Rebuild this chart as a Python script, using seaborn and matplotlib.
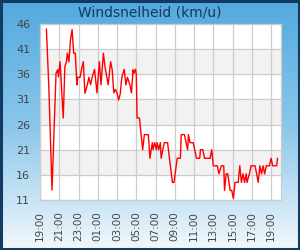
import pandas as pd
import numpy as np
import matplotlib
matplotlib.use('Agg')
import matplotlib.pyplot as plt
import matplotlib.dates as mdates
import seaborn as sns

# tijden (klok) en windsnelheid in km/u
tijden = ['19:40', '19:55', '20:15', '20:40', '20:50', '20:55', '21:05', '21:25', '21:35', '21:45',
          '21:50', '22:00', '22:10', '22:20', '22:30', '22:40', '22:50', '22:55', '23:10', '23:20',
          '23:30', '23:40', '23:55', '00:05', '00:15', '00:25', '00:40', '00:50', '00:55', '01:10',
          '01:20', '01:35', '01:45', '02:05', '02:20', '02:30', '02:40', '02:50', '03:00', '03:10',
          '03:20', '03:30', '03:45', '03:55', '04:05', '04:20', '04:30', '04:40', '04:45', '04:55',
          '05:00', '05:05', '05:20', '05:30', '05:40', '05:50', '06:15', '06:25', '06:40', '06:45',
          '06:55', '07:05', '07:10', '07:20', '07:30', '07:35', '07:45', '07:55', '08:15', '08:45',
          '08:55', '09:15', '09:35', '09:40', '10:00', '10:20', '10:25', '10:35', '10:55', '11:15',
          '11:35', '11:40', '11:55', '12:05', '12:40', '12:50', '13:00', '13:25', '13:35', '13:50',
          '14:05', '14:10', '14:20', '14:30', '14:45', '14:55', '15:05', '15:15', '15:35', '15:45',
          '15:55', '16:05', '16:15', '16:25', '16:30', '16:45', '16:55', '17:20', '17:30', '17:40',
          '17:50', '18:00', '18:10', '18:20', '18:30', '18:50', '19:00', '19:10', '19:35', '19:40']
snelheid = [45, 33.5, 13, 36.2, 36.9, 35.5, 38.5, 27.3, 37.5, 38.5,
            40.2, 38.5, 42.8, 44.9, 40.2, 40.2, 33.9, 35.4, 35.4, 37.2,
            38.5, 32.2, 33.9, 35.4, 33.9, 35.4, 37, 33.9, 32.3, 38.5,
            33.9, 40.2, 37.5, 33.9, 38.5, 36.9, 32.3, 33, 32.3, 30.9,
            32.1, 35.4, 37, 33.9, 35.4, 33.9, 32.3, 36.9, 36.2, 37,
            35.9, 27.3, 27.3, 24, 21, 24, 24, 19.3, 22.4, 21,
            22.4, 21, 22.4, 21, 22.4, 19.3, 21, 22.4, 22.4, 14.5,
            14.5, 19.3, 19.3, 24, 24, 21, 24, 22.4, 22.4, 19.3,
            19.3, 21, 21, 19.3, 19.3, 21, 17.8, 17.8, 16.2, 17.8,
            17.8, 12.9, 16.2, 16.2, 12.9, 12.9, 11.3, 14.5, 14.5, 17.8,
            14.5, 16.2, 14.5, 16.2, 14.5, 16.2, 17.8, 17.8, 16.2, 14.5,
            17.8, 16.2, 17.8, 16.2, 17.8, 17.8, 19.3, 17.8, 17.8, 19.3]
y_ticks = [11, 16, 21, 26, 31, 36, 41, 46]

# klokstrings omzetten naar datetimes (na middernacht een dag verder)
start = pd.Timestamp('2024-06-01 19:00')
stamps = []
dag = pd.Timestamp('2024-06-01')
vorige = None
for t in tijden:
    ts = pd.Timestamp(f"{dag.date()} {t}")
    if vorige is not None and ts < vorige:
        dag = dag + pd.Timedelta(days=1)
        ts = pd.Timestamp(f"{dag.date()} {t}")
    stamps.append(ts)
    vorige = ts
df = pd.DataFrame({'tijd': stamps, 'kmu': snelheid})

sns.set_style('white')
plt.rcParams['font.family'] = ['DejaVu Sans']

fig = plt.figure(figsize=(3, 2.5), dpi=100)

# achtergrond met verloop van blauw naar lichtblauw
bg = fig.add_axes([0, 0, 1, 1], zorder=-2)
grad = np.linspace(0, 1, 256).reshape(-1, 1)
cmap = matplotlib.colors.LinearSegmentedColormap.from_list('bg', ['#52a9de', '#8ac6ea', '#f2f8fc'])
bg.imshow(grad, aspect='auto', cmap=cmap, extent=[0, 1, 0, 1])
bg.set_axis_off()
fig.patches.append(matplotlib.patches.Rectangle((0.003, 0.004), 0.994, 0.992, transform=fig.transFigure,
                                                fill=False, edgecolor='#123a63', linewidth=2.2))

ax = fig.add_axes([0.1333, 0.2, 0.8024, 0.704])
ax.set_facecolor('white')

# afwisselende banden
for i in range(len(y_ticks) - 1):
    if i % 2 == 1:
        ax.axhspan(y_ticks[i], y_ticks[i + 1], color='#f2f2f2', zorder=0, lw=0)

sns.lineplot(data=df, x='tijd', y='kmu', color='#ff0000', linewidth=1.0, ax=ax, zorder=3)

ax.set_ylim(11, 46)
ax.set_yticks(y_ticks)
ax.set_xlim(start, start + pd.Timedelta(hours=25))
ax.xaxis.set_major_locator(mdates.HourLocator(byhour=range(1, 24, 2)))
ax.xaxis.set_major_formatter(mdates.DateFormatter('%H:%M'))
ax.grid(True, color='#cccccc', linewidth=0.9, zorder=1)
ax.set_axisbelow(True)
ax.set_xlabel('')
ax.set_ylabel('')
for s in ax.spines.values():
    s.set_color('#cccccc')
    s.set_linewidth(0.9)
ax.tick_params(axis='both', length=0, labelsize=7.5, colors='#444444')
ax.tick_params(axis='y', pad=7)
ax.tick_params(axis='x', labelrotation=90, pad=8)
for lab in ax.get_yticklabels():
    lab.set_fontsize(8)

fig.text(0.5, 0.952, 'Windsnelheid (km/u)', ha='center', va='center', fontsize=10, color='#16385a')

fig.savefig('out.png', dpi=100)
